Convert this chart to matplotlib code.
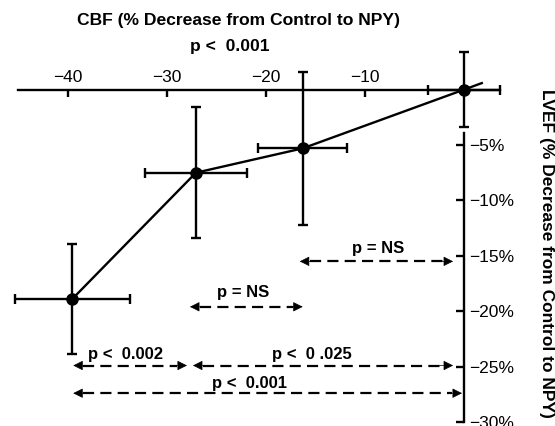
import numpy as np
import matplotlib
matplotlib.use("Agg")
import matplotlib.pyplot as plt

plt.rcParams["font.family"] = ["Liberation Sans", "DejaVu Sans"]

# CBF vs LVEF (% decrease from control to NPY), mean +/- error
cbf = [-39.6, -27.1, -16.3, 0.0]
lvef = [-18.9, -7.5, -5.3, 0.0]
cbf_err = [5.8, 5.15, 4.5, 3.6]
lvef_err = [5.0, 5.9, 6.9, 3.4]
line_end = (1.8, 0.59)   # regression line runs a little past the last point

x_ticks = [-40, -30, -20, -10]
y_ticks = [-5, -10, -15, -20, -25, -30]

# significance brackets: (x from, x to, y, label, label x, label y)
brackets = [
    (-16.6, -1.1, -15.5, "p = NS", -8.7, -14.3),
    (-27.7, -16.3, -19.6, "p = NS", -22.3, -18.3),
    (-39.5, -28.0, -24.9, "p <  0.002", -34.2, -23.9),
    (-27.4, -1.1, -24.9, "p <  0 .025", -15.4, -23.9),
    (-39.5, -0.2, -27.4, "p <  0.001", -21.7, -26.5),
]

fig = plt.figure(figsize=(5.55, 4.26), dpi=100)
ax = fig.add_axes([0, 0, 1, 1])
ax.set_xlim(-46.9, 9.2)
ax.set_ylim(-30.36, 8.09)

# axes through the origin: x axis with labels above, y axis with labels right
for s in ("left", "bottom"):
    ax.spines[s].set_visible(False)
ax.spines["top"].set_position(("data", 0))
ax.spines["right"].set_position(("data", 0))
ax.spines["top"].set_bounds(-45.1, 3.6)
ax.spines["right"].set_bounds(-30, -3.9)
for s in ("top", "right"):
    ax.spines[s].set_linewidth(1.7)
ax.xaxis.set_ticks_position("top")
ax.yaxis.set_ticks_position("right")
ax.set_xticks(x_ticks)
ax.set_xticklabels([f"\u2212{abs(v)}" for v in x_ticks])
ax.set_yticks(y_ticks)
ax.set_yticklabels([f"\u2212{abs(v)}%" for v in y_ticks])
ax.tick_params(axis="x", direction="in", length=5, width=1.7, pad=3, labelsize=12.5)
ax.tick_params(axis="y", direction="in", length=6, width=1.7, pad=4, labelsize=12.5)
ax.patch.set_visible(False)

ax.plot(cbf + [line_end[0]], lvef + [line_end[1]], c="k", lw=1.7, zorder=3)
ax.errorbar(cbf, lvef, xerr=cbf_err, yerr=lvef_err, fmt="o", c="k", ms=8,
            elinewidth=1.7, capsize=3.5, capthick=1.7, zorder=4)

for x0, x1, y, lab, lx, ly in brackets:
    ax.plot([x0 + 1.0, x1 - 1.0], [y, y], c="k", lw=1.6, dashes=(5, 2.8))
    for tip, back in ((x0, x0 + 1.4), (x1, x1 - 1.4)):
        ax.annotate("", xy=(tip, y), xytext=(back, y),
                    arrowprops=dict(arrowstyle="-|>", color="k", lw=0.5,
                                    mutation_scale=15, shrinkA=0, shrinkB=0))
    ax.text(lx, ly, lab, ha="center", va="center", fontsize=12, fontweight="bold")

fig.text(0.429, 0.951, "CBF (% Decrease from Control to NPY)", ha="center", va="center",
         fontsize=12.6, fontweight="bold")
fig.text(0.414, 0.892, "p <  0.001", ha="center", va="center", fontsize=12.6, fontweight="bold")
fig.text(0.984, 0.405, "LVEF (% Decrease from Control to NPY)", ha="center", va="center",
         rotation=-90, fontsize=12.5, fontweight="bold")

fig.savefig("out.png", dpi=100)
